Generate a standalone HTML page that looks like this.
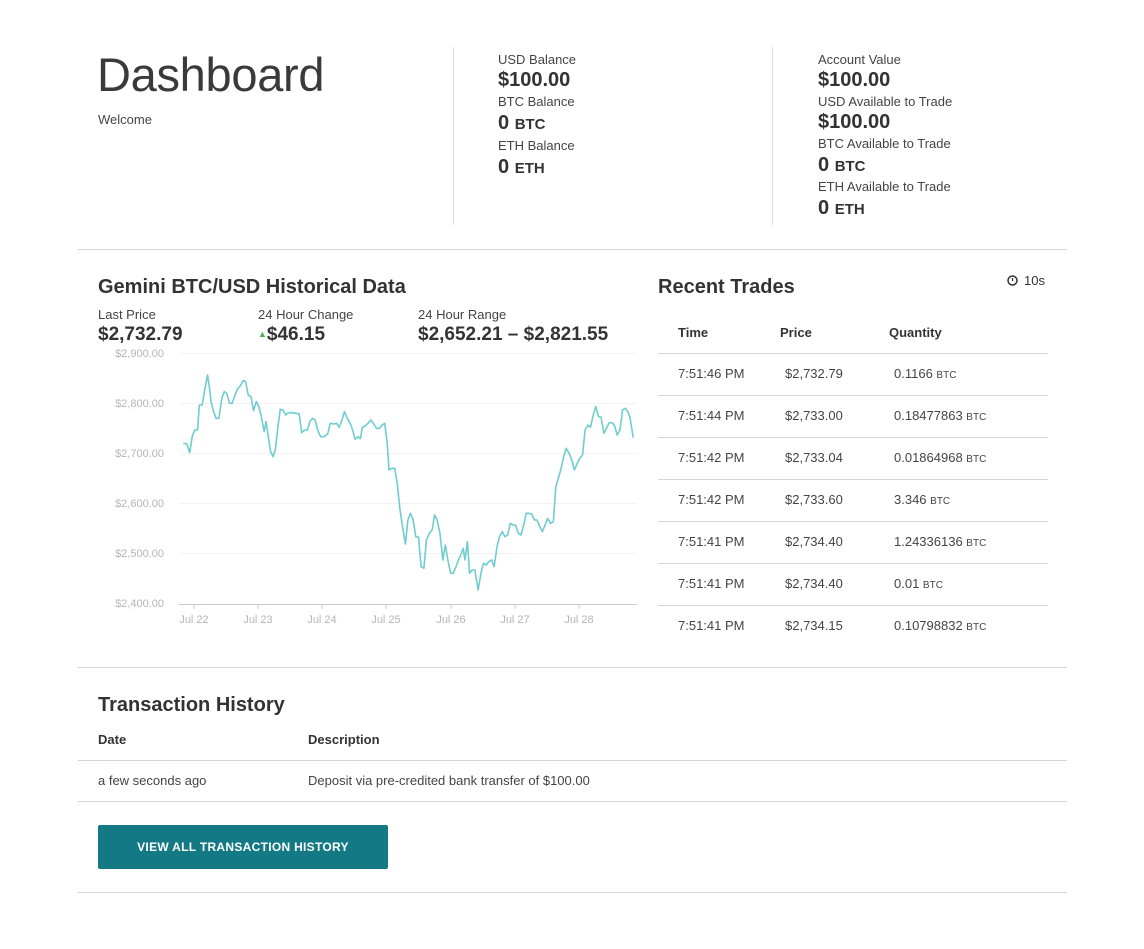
<!DOCTYPE html>
<html><head><meta charset="utf-8"><style>
body{margin:0;width:1144px;height:949px;background:#fff;font-family:"Liberation Sans",sans-serif;color:#333;position:relative;overflow:hidden}
.a{position:absolute;white-space:nowrap;line-height:1}
.lbl{font-size:13px;color:#444}
.val{font-size:20px;font-weight:bold;color:#333}
.val small{font-size:15px}
.h{font-size:20px;font-weight:bold;color:#333}
.hr{position:absolute;height:1px;background:#d6d6d6}
.vr{position:absolute;width:1px;background:#ddd}
.t{font-size:13px;color:#444}
.th{font-size:13px;font-weight:bold;color:#333}
.u{font-size:10px}
.ax{font-size:11px;fill:#b5b5b5;font-family:"Liberation Sans",sans-serif}
</style></head><body>
<div class="a" style="left:97px;top:51px;font-size:47px;font-weight:300;color:#3a3a3a;letter-spacing:-0.3px">Dashboard</div>
<div class="a t" style="left:98px;top:113px">Welcome</div>
<div class="vr" style="left:453px;top:47px;height:178px"></div>
<div class="vr" style="left:772px;top:47px;height:178px"></div>

<div class="a lbl" style="left:498px;top:53px">USD Balance</div>
<div class="a val" style="left:498px;top:70px">$100.00</div>
<div class="a lbl" style="left:498px;top:95px">BTC Balance</div>
<div class="a val" style="left:498px;top:113px">0 <small>BTC</small></div>
<div class="a lbl" style="left:498px;top:139px">ETH Balance</div>
<div class="a val" style="left:498px;top:157px">0 <small>ETH</small></div>

<div class="a lbl" style="left:818px;top:53px">Account Value</div>
<div class="a val" style="left:818px;top:70px">$100.00</div>
<div class="a lbl" style="left:818px;top:95px">USD Available to Trade</div>
<div class="a val" style="left:818px;top:112px">$100.00</div>
<div class="a lbl" style="left:818px;top:137px">BTC Available to Trade</div>
<div class="a val" style="left:818px;top:155px">0 <small>BTC</small></div>
<div class="a lbl" style="left:818px;top:180px">ETH Available to Trade</div>
<div class="a val" style="left:818px;top:198px">0 <small>ETH</small></div>

<div class="hr" style="left:78px;top:249px;width:989px"></div>

<div class="a h" style="left:98px;top:277px">Gemini BTC/USD Historical Data</div>
<div class="a lbl" style="left:98px;top:308px">Last Price</div>
<div class="a val" style="left:98px;top:325px;font-size:19px">$2,732.79</div>
<div class="a lbl" style="left:258px;top:308px">24 Hour Change</div>
<div class="a val" style="left:258px;top:325px;font-size:19px"><span style="color:#4caf50;font-size:9px;vertical-align:3px">▲</span>$46.15</div>
<div class="a lbl" style="left:418px;top:308px">24 Hour Range</div>
<div class="a val" style="left:418px;top:325px;font-size:19px">$2,652.21 – $2,821.55</div>

<svg class="a" style="left:0;top:0" width="1144" height="949">
<g stroke="#f2f2f2" stroke-width="1">
<line x1="180" x2="637" y1="353.5" y2="353.5"/><line x1="180" x2="637" y1="403.5" y2="403.5"/><line x1="180" x2="637" y1="453.5" y2="453.5"/><line x1="180" x2="637" y1="503.5" y2="503.5"/><line x1="180" x2="637" y1="553.5" y2="553.5"/>
</g>
<line x1="178" x2="637" y1="604.5" y2="604.5" stroke="#ccc"/>
<g stroke="#ccc"><line x1="194" x2="194" y1="604" y2="609"/><line x1="258" x2="258" y1="604" y2="609"/><line x1="322" x2="322" y1="604" y2="609"/><line x1="386" x2="386" y1="604" y2="609"/><line x1="451" x2="451" y1="604" y2="609"/><line x1="515" x2="515" y1="604" y2="609"/><line x1="579" x2="579" y1="604" y2="609"/></g>
<g class="ax" text-anchor="end"><text x="164" y="357">$2,900.00</text><text x="164" y="407">$2,800.00</text><text x="164" y="457">$2,700.00</text><text x="164" y="507">$2,600.00</text><text x="164" y="557">$2,500.00</text><text x="164" y="607">$2,400.00</text></g>
<g class="ax" text-anchor="middle"><text x="194" y="623">Jul 22</text><text x="258" y="623">Jul 23</text><text x="322" y="623">Jul 24</text><text x="386" y="623">Jul 25</text><text x="451" y="623">Jul 26</text><text x="515" y="623">Jul 27</text><text x="579" y="623">Jul 28</text></g>
<g transform="translate(90.6,340) scale(0.3565,0.33333)">
<polyline fill="none" stroke="#6fcdcf" stroke-width="1.6" vector-effect="non-scaling-stroke" stroke-linejoin="round" points="260,310 270,312 278,338 285,290 292,270 300,270 305,195 313,195 320,150 328,105 333,140 338,185 345,215 352,235 360,235 368,175 375,155 382,160 390,190 397,190 405,165 413,145 420,138 428,122 435,125 442,165 450,170 457,212 465,185 472,200 478,225 487,275 492,245 497,280 505,335 512,350 518,330 525,265 532,208 540,210 547,225 555,218 565,218 578,220 585,222 592,278 600,270 608,270 615,245 622,235 630,240 637,270 645,290 655,290 665,282 672,250 682,252 690,250 697,262 705,240 712,215 720,235 728,250 735,270 742,298 750,290 757,296 762,262 770,258 778,250 786,240 793,250 802,265 810,265 818,255 825,250 832,310 837,390 845,385 853,385 860,430 868,510 875,560 883,612 890,540 897,520 905,540 912,590 920,592 927,680 935,685 942,600 950,580 958,570 965,525 972,540 980,580 988,660 995,615 1003,665 1010,700 1017,700 1025,680 1032,660 1040,640 1045,625 1050,660 1057,605 1063,700 1070,690 1078,690 1087,750 1095,700 1102,670 1110,675 1117,665 1125,660 1132,680 1140,620 1147,590 1155,575 1162,590 1170,585 1177,550 1185,555 1192,555 1200,580 1207,585 1215,555 1222,520 1230,520 1237,522 1245,540 1252,540 1260,560 1267,575 1275,555 1282,535 1290,550 1298,545 1305,440 1312,415 1320,385 1327,350 1334,325 1342,340 1350,360 1357,390 1365,370 1372,355 1380,345 1387,270 1395,255 1402,262 1410,225 1417,200 1425,230 1432,232 1440,280 1447,265 1455,248 1463,248 1470,258 1477,285 1485,270 1492,210 1500,205 1507,215 1513,232 1522,293"/>
</g>
<circle cx="1012.5" cy="280.5" r="4.5" fill="none" stroke="#333" stroke-width="1.5"/><line x1="1012.5" y1="278" x2="1012.5" y2="281" stroke="#333" stroke-width="1.3"/>
</svg>

<div class="a h" style="left:658px;top:277px">Recent Trades</div>
<div class="a t" style="left:1024px;top:274px;color:#333">10s</div>
<div class="a th" style="left:678px;top:326px">Time</div>
<div class="a th" style="left:780px;top:326px">Price</div>
<div class="a th" style="left:889px;top:326px">Quantity</div>
<div class="hr" style="left:658px;top:353px;width:390px"></div>
<div class="hr" style="left:658px;top:395px;width:390px"></div>
<div class="hr" style="left:658px;top:437px;width:390px"></div>
<div class="hr" style="left:658px;top:479px;width:390px"></div>
<div class="hr" style="left:658px;top:521px;width:390px"></div>
<div class="hr" style="left:658px;top:563px;width:390px"></div>
<div class="hr" style="left:658px;top:605px;width:390px"></div>

<div class="a t" style="left:678px;top:367px">7:51:46 PM</div><div class="a t" style="left:785px;top:367px">$2,732.79</div><div class="a t" style="left:894px;top:367px">0.1166 <span class="u">BTC</span></div>
<div class="a t" style="left:678px;top:409px">7:51:44 PM</div><div class="a t" style="left:785px;top:409px">$2,733.00</div><div class="a t" style="left:894px;top:409px">0.18477863 <span class="u">BTC</span></div>
<div class="a t" style="left:678px;top:451px">7:51:42 PM</div><div class="a t" style="left:785px;top:451px">$2,733.04</div><div class="a t" style="left:894px;top:451px">0.01864968 <span class="u">BTC</span></div>
<div class="a t" style="left:678px;top:493px">7:51:42 PM</div><div class="a t" style="left:785px;top:493px">$2,733.60</div><div class="a t" style="left:894px;top:493px">3.346 <span class="u">BTC</span></div>
<div class="a t" style="left:678px;top:535px">7:51:41 PM</div><div class="a t" style="left:785px;top:535px">$2,734.40</div><div class="a t" style="left:894px;top:535px">1.24336136 <span class="u">BTC</span></div>
<div class="a t" style="left:678px;top:577px">7:51:41 PM</div><div class="a t" style="left:785px;top:577px">$2,734.40</div><div class="a t" style="left:894px;top:577px">0.01 <span class="u">BTC</span></div>
<div class="a t" style="left:678px;top:619px">7:51:41 PM</div><div class="a t" style="left:785px;top:619px">$2,734.15</div><div class="a t" style="left:894px;top:619px">0.10798832 <span class="u">BTC</span></div>

<div class="hr" style="left:78px;top:667px;width:989px"></div>
<div class="a h" style="left:98px;top:695px">Transaction History</div>
<div class="a th" style="left:98px;top:733px">Date</div>
<div class="a th" style="left:308px;top:733px">Description</div>
<div class="hr" style="left:78px;top:760px;width:989px"></div>
<div class="a t" style="left:98px;top:774px">a few seconds ago</div>
<div class="a t" style="left:308px;top:774px">Deposit via pre-credited bank transfer of $100.00</div>
<div class="hr" style="left:78px;top:801px;width:989px"></div>
<div class="a" style="left:98px;top:825px;width:290px;height:44px;background:#137a85;border-radius:2px;color:#fff;font-size:12px;font-weight:bold;letter-spacing:0.3px;line-height:44px;text-align:center">VIEW ALL TRANSACTION HISTORY</div>
<div class="hr" style="left:78px;top:892px;width:989px"></div>
</body></html>
